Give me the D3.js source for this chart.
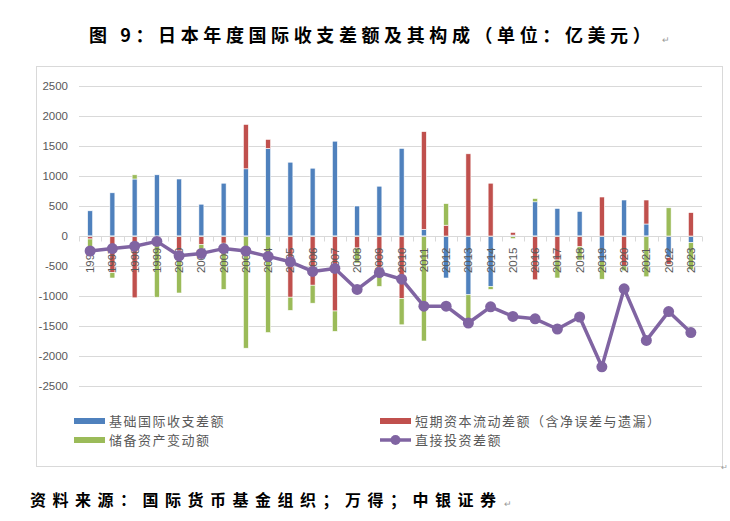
<!DOCTYPE html>
<html>
<head>
<meta charset="utf-8">
<script src="https://cdn.jsdelivr.net/npm/d3@7"></script>
<style>
  body { margin: 0; background: #fff; }
  svg { display: block; }
</style>
</head>
<body>
<div id="chart"></div>
<script>
var years = ["1996","1997","1998","1999","2000","2001","2002","2003","2004","2005",
             "2006","2007","2008","2009","2010","2011","2012","2013","2014","2015",
             "2016","2017","2018","2019","2020","2021","2022","2023"];
// 基础国际收支差额
var basic = [420, 720, 950, 1020, 950, 530, 880, 1120, 1460, 1230,
             1130, 1580, 500, 830, 1460, 110, -700, -980, -840, 15,
             570, 460, 410, -420, 600, 200, -360, -110];
// 短期资本流动差额（含净误差与遗漏）
var shortCap = [-50, -610, -1030, 0, -250, -140, -120, 740, 150, -1020,
                -820, -1250, -200, -530, -1040, 1630, 180, 1370, 880, 45,
                -730, -400, -180, 650, -500, 400, -110, 390];
// 储备资产变动额
var reserve = [-150, -90, 70, -1020, -700, -140, -770, -1870, -1610, -220,
               -300, -340, -250, -310, -440, -1750, 360, -420, -50, -45,
               55, -300, -220, -300, -80, -680, 470, -450];
// 直接投资差额
var fdi = [-250, -210, -170, -90, -330, -290, -210, -250, -340, -430,
           -590, -540, -890, -610, -720, -1170, -1170, -1450, -1180, -1340,
           -1380, -1550, -1350, -2180, -880, -1740, -1260, -1610];
var yTicks = [2500, 2000, 1500, 1000, 500, 0, -500, -1000, -1500, -2000, -2500];

var seriesNames = ["基础国际收支差额", "短期资本流动差额（含净误差与遗漏）", "储备资产变动额", "直接投资差额"];
var colors = ["#4F81BD", "#C0504D", "#9BBB59", "#8064A2"];

var width = 730, height = 521;
var svg = d3.select("#chart").append("svg")
    .attr("width", width).attr("height", height);

// title
svg.append("text")
    .attr("x", 89).attr("y", 42)
    .attr("font-family", "'Noto Sans CJK SC'")
    .attr("font-weight", "bold")
    .attr("font-size", 18)
    .attr("letter-spacing", 4.6)
    .attr("fill", "#000")
    .text("图 9：日本年度国际收支差额及其构成（单位：亿美元）");
svg.append("text").attr("x", 662).attr("y", 43)
    .attr("font-size", 9).attr("fill", "#999").text("↵");

// chart frame
svg.append("rect")
    .attr("x", 36.5).attr("y", 66.5).attr("width", 686).attr("height", 400)
    .attr("fill", "none").attr("stroke", "#D9D9D9");
svg.append("text").attr("x", 721).attr("y", 470)
    .attr("font-size", 8).attr("fill", "#999").text("↵");

var x = d3.scaleBand().domain(years).range([79, 702]);
var y = d3.scaleLinear().domain([-2500, 2500]).range([386, 86]);

// grid
svg.append("g").selectAll("line").data(yTicks).enter().append("line")
    .attr("x1", 79).attr("x2", 702)
    .attr("y1", function(d){ return Math.round(y(d)) + 0.5; })
    .attr("y2", function(d){ return Math.round(y(d)) + 0.5; })
    .attr("stroke", "#D9D9D9");

// y labels
svg.append("g").selectAll("text").data(yTicks).enter().append("text")
    .attr("x", 68).attr("y", function(d){ return y(d); })
    .attr("dy", "0.35em")
    .attr("text-anchor", "end")
    .attr("font-family", "'Liberation Sans', Arial, sans-serif")
    .attr("font-size", 11.5)
    .attr("fill", "#595959")
    .text(function(d){ return d; });

// stacked bars
var table = years.map(function(yr, i) {
    return { year: yr, basic: basic[i], shortCap: shortCap[i], reserve: reserve[i] };
});
var stack = d3.stack().keys(["basic", "shortCap", "reserve"])
    .offset(d3.stackOffsetDiverging);
var layers = stack(table);
var barW = 5;

svg.append("g").selectAll("g").data(layers).enter().append("g")
    .attr("fill", function(d, i){ return colors[i]; })
    .selectAll("rect").data(function(d){ return d; }).enter().append("rect")
    .attr("x", function(d){ return x(d.data.year) + x.bandwidth() / 2 - barW / 2; })
    .attr("width", barW)
    .attr("y", function(d){ return y(Math.max(d[0], d[1])); })
    .attr("height", function(d){ return Math.abs(y(d[0]) - y(d[1])); })
    .attr("stroke", "#fff").attr("stroke-width", 0.6);

// x axis at zero
var y0 = Math.round(y(0)) + 0.5;
svg.append("line").attr("x1", 79).attr("x2", 702).attr("y1", y0).attr("y2", y0)
    .attr("stroke", "#D9D9D9");
svg.append("g").selectAll("line").data(years.concat(["end"])).enter().append("line")
    .attr("x1", function(d, i){ return Math.round(79 + i * x.step()) + 0.5; })
    .attr("x2", function(d, i){ return Math.round(79 + i * x.step()) + 0.5; })
    .attr("y1", y0).attr("y2", y0 + 5)
    .attr("stroke", "#D9D9D9");
svg.append("g").selectAll("text").data(years).enter().append("text")
    .attr("transform", function(d){
        return "translate(" + (x(d) + x.bandwidth() / 2) + "," + (y0 + 11) + ") rotate(-90)";
    })
    .attr("dy", "0.35em")
    .attr("text-anchor", "end")
    .attr("font-family", "'Liberation Sans', Arial, sans-serif")
    .attr("font-size", 11.5)
    .attr("fill", "#595959")
    .text(function(d){ return d; });

// FDI line
var line = d3.line()
    .x(function(d, i){ return x(years[i]) + x.bandwidth() / 2; })
    .y(function(d){ return y(d); });
svg.append("path").datum(fdi)
    .attr("d", line)
    .attr("fill", "none")
    .attr("stroke", colors[3])
    .attr("stroke-width", 3.5)
    .attr("stroke-linejoin", "round");
svg.append("g").selectAll("circle").data(fdi).enter().append("circle")
    .attr("cx", function(d, i){ return x(years[i]) + x.bandwidth() / 2; })
    .attr("cy", function(d){ return y(d); })
    .attr("r", 5.5)
    .attr("fill", colors[3]);

// legend
var legendPos = [[74, 421], [380, 421], [74, 440], [380, 440]];
var lg = svg.append("g").selectAll("g").data(seriesNames).enter().append("g")
    .attr("transform", function(d, i){ return "translate(" + legendPos[i][0] + "," + legendPos[i][1] + ")"; });
lg.each(function(d, i) {
    var g = d3.select(this);
    if (i < 3) {
        g.append("rect").attr("x", 0).attr("y", -3).attr("width", 31).attr("height", 6)
            .attr("fill", colors[i]);
    } else {
        g.append("line").attr("x1", 0).attr("x2", 31).attr("y1", 0).attr("y2", 0)
            .attr("stroke", colors[i]).attr("stroke-width", 3.5);
        g.append("circle").attr("cx", 15.5).attr("cy", 0).attr("r", 5).attr("fill", colors[i]);
    }
    g.append("text").attr("x", 35).attr("y", 0).attr("dy", "0.35em")
        .attr("font-family", "'Noto Sans CJK SC'")
        .attr("font-size", 13)
        .attr("letter-spacing", 1.5)
        .attr("fill", "#595959")
        .text(d);
});

// source
svg.append("text")
    .attr("x", 30).attr("y", 506)
    .attr("font-family", "'Noto Sans CJK SC'")
    .attr("font-weight", "bold")
    .attr("font-size", 16)
    .attr("letter-spacing", 6.5)
    .attr("fill", "#000")
    .text("资料来源：国际货币基金组织；万得；中银证券");
svg.append("text").attr("x", 504).attr("y", 507)
    .attr("font-size", 9).attr("fill", "#999").text("↵");
</script>
</body>
</html>
